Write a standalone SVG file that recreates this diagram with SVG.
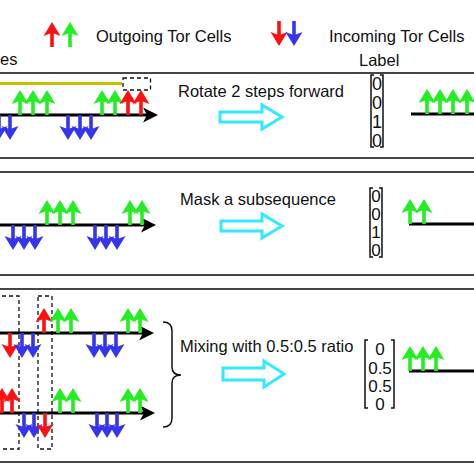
<svg xmlns="http://www.w3.org/2000/svg" xmlns:xlink="http://www.w3.org/1999/xlink" width="474" height="474" viewBox="0 0 474 474">
<style>
text{font-family:"Liberation Sans",Arial,sans-serif;fill:#111}
.t{font-size:16.5px}
.panel{fill:none;stroke:#333;stroke-width:1.8}
.axis{stroke:#000;stroke-width:3}
.dash{fill:none;stroke:#111;stroke-width:1.3;stroke-dasharray:4 3}
.g{fill:#22ee22}.r{fill:#ff1010}.b{fill:#3535ee}
.cy{fill:#fff;stroke:#33e8ff;stroke-width:3}
.br{fill:none;stroke:#111;stroke-width:1.5}
</style>
<defs>
<path id="up" d="M0,0 L8.5,14 L1.8,11.5 L1.8,25 L-1.8,25 L-1.8,11.5 L-8.5,14 Z"/>
<path id="dn" d="M0,25 L8.5,11 L1.8,13.5 L1.8,0 L-1.8,0 L-1.8,13.5 L-8.5,11 Z"/>
<path id="ah" d="M0,0 L-15,-7.5 L-11,0 L-15,7.5 Z" fill="#000"/>
</defs>
<rect width="474" height="474" fill="#fff"/>

<g id="legend">
<use href="#up" x="52" y="22" class="r"/>
<use href="#up" x="70" y="22" class="g"/>
<text class="t" x="96" y="42">Outgoing Tor Cells</text>
<use href="#dn" x="279" y="21" class="r"/>
<use href="#dn" x="294" y="21" class="b"/>
<text class="t" x="329" y="42">Incoming Tor Cells</text>
<text class="t" x="0" y="65">es</text>
<text class="t" x="359" y="66">Label</text>
</g>

<g id="panel1">
<rect class="panel" x="-10" y="73" width="494" height="85"/>
<line x1="-5" y1="83.5" x2="122" y2="83.5" stroke="#c8bf00" stroke-width="3"/>
<rect class="dash" x="123" y="78" width="27.5" height="12"/>
<line class="axis" x1="-5" y1="115" x2="148" y2="115"/>
<use href="#ah" x="158" y="115"/>
<g class="g"><use href="#up" x="20" y="90"/><use href="#up" x="33" y="90"/><use href="#up" x="47" y="90"/><use href="#up" x="102" y="90"/><use href="#up" x="115" y="90"/></g>
<g class="r"><use href="#up" x="128" y="90"/><use href="#up" x="141" y="90"/></g>
<g class="b"><use href="#dn" x="-1" y="115"/><use href="#dn" x="10" y="115"/><use href="#dn" x="68" y="115"/><use href="#dn" x="80" y="115"/><use href="#dn" x="91" y="115"/></g>
<text class="t" x="178" y="97">Rotate 2 steps forward</text>
<path class="cy" d="M220,112 L262,112 L262,105 L282,117 L262,129 L262,122 L220,122 Z"/>
<path class="br" d="M374,75 L371,75 L371,147 L374,147 M380,75 L383,75 L383,147 L380,147"/>
<g font-size="18" text-anchor="middle"><text x="377" y="89.5">0</text><text x="377" y="108.5">0</text><text x="377" y="127.5">1</text><text x="377" y="146.5">0</text></g>
<line class="axis" x1="411" y1="114" x2="480" y2="114"/>
<g class="g"><use href="#up" x="427" y="89"/><use href="#up" x="440" y="89"/><use href="#up" x="453" y="89"/><use href="#up" x="467" y="89"/></g>
</g>

<g id="panel2">
<rect class="panel" x="-10" y="172" width="494" height="103"/>
<line class="axis" x1="-5" y1="225" x2="146" y2="225"/>
<use href="#ah" x="156" y="225"/>
<g class="g"><use href="#up" x="47" y="200"/><use href="#up" x="60" y="200"/><use href="#up" x="73" y="200"/><use href="#up" x="130" y="200"/><use href="#up" x="142" y="200"/></g>
<g class="b"><use href="#dn" x="13" y="225"/><use href="#dn" x="24" y="225"/><use href="#dn" x="35" y="225"/><use href="#dn" x="95" y="225"/><use href="#dn" x="106" y="225"/><use href="#dn" x="117" y="225"/></g>
<text class="t" x="180" y="205">Mask a subsequence</text>
<path class="cy" d="M221,221 L262,221 L262,214 L282,226 L262,238 L262,231 L221,231 Z"/>
<path class="br" d="M373,188 L370,188 L370,257 L373,257 M379,188 L382,188 L382,257 L379,257"/>
<g font-size="17" text-anchor="middle"><text x="376" y="202">0</text><text x="376" y="220">0</text><text x="376" y="238">1</text><text x="376" y="256">0</text></g>
<line class="axis" x1="409" y1="224" x2="480" y2="224"/>
<g class="g"><use href="#up" x="410" y="199"/><use href="#up" x="424" y="199"/></g>
</g>

<g id="panel3">
<rect class="panel" x="-10" y="289" width="494" height="173"/>
<rect class="dash" x="-5" y="296" width="24" height="153"/>
<rect class="dash" x="38" y="296" width="14" height="153"/>
<line class="axis" x1="-5" y1="333" x2="144" y2="333"/>
<use href="#ah" x="154" y="333"/>
<use href="#up" x="44" y="308" class="r"/>
<g class="g"><use href="#up" x="58" y="308"/><use href="#up" x="71" y="308"/><use href="#up" x="128" y="308"/><use href="#up" x="140" y="308"/></g>
<use href="#dn" x="10" y="333" class="r"/>
<g class="b"><use href="#dn" x="22" y="333"/><use href="#dn" x="33" y="333"/><use href="#dn" x="94" y="333"/><use href="#dn" x="105" y="333"/><use href="#dn" x="116" y="333"/></g>
<line class="axis" x1="-5" y1="413" x2="145" y2="413"/>
<use href="#ah" x="155" y="413"/>
<g class="r"><use href="#up" x="2" y="388"/><use href="#up" x="12" y="388"/></g>
<g class="g"><use href="#up" x="60" y="388"/><use href="#up" x="73" y="388"/><use href="#up" x="128" y="388"/><use href="#up" x="140" y="388"/></g>
<g class="b"><use href="#dn" x="24" y="413"/><use href="#dn" x="34" y="413"/><use href="#dn" x="97" y="413"/><use href="#dn" x="107" y="413"/><use href="#dn" x="117" y="413"/></g>
<use href="#dn" x="45" y="413" class="r"/>
<path class="br" d="M163,322 Q172,322 172,331 L172,367 Q172,375 181,375 Q172,375 172,383 L172,418 Q172,427 163,427"/>
<text class="t" x="180" y="352">Mixing with 0.5:0.5 ratio</text>
<path class="cy" d="M223,368 L264,368 L264,361 L284,374 L264,387 L264,380 L223,380 Z"/>
<path class="br" d="M368,340 L365,340 L365,408 L368,408 M391,340 L394,340 L394,408 L391,408"/>
<g font-size="17" text-anchor="middle"><text x="380" y="355">0</text><text x="380" y="373.5">0.5</text><text x="380" y="392">0.5</text><text x="380" y="410">0</text></g>
<line class="axis" x1="409" y1="371" x2="480" y2="371"/>
<g class="g"><use href="#up" x="410" y="346"/><use href="#up" x="423" y="346"/><use href="#up" x="436" y="346"/></g>
</g>
</svg>
